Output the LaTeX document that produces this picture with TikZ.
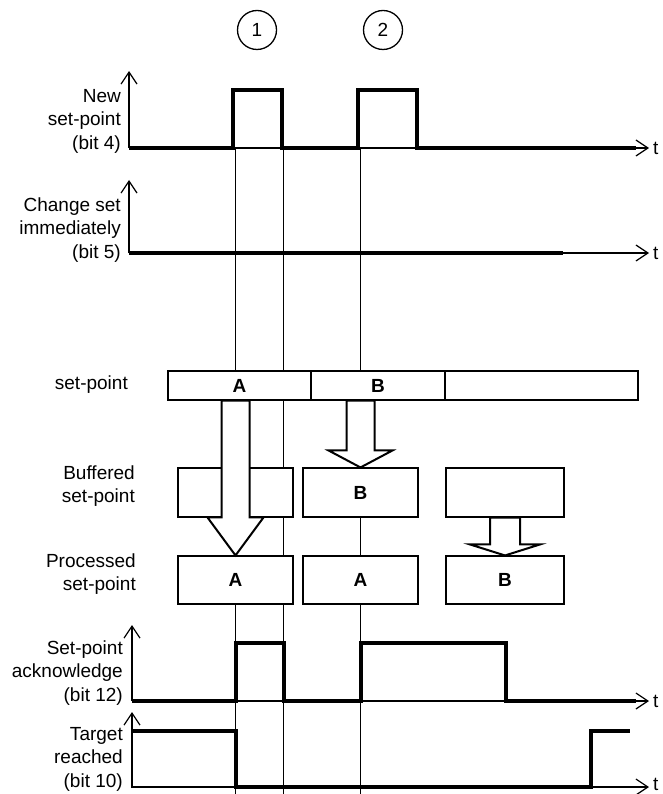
\documentclass[tikz,border=0pt]{standalone}
\usepackage{fontspec}
\setmainfont{Liberation Sans}
\usetikzlibrary{calc, arrows.meta}
\newcommand{\fatarrow}[5]{%
  \draw[fat] let \p1=(#1), \p2=(#2) in
    (\x1-#3,\y1) -- (\x1-#3,\y2+#5) -- (\x1-#4,\y2+#5) -- (\x1,\y2)
    -- (\x1+#4,\y2+#5) -- (\x1+#3,\y2+#5) -- (\x1+#3,\y1) -- cycle;}

\begin{document}
\begin{tikzpicture}[x=1pt, y=-1pt,
  lbl/.style={anchor=east, align=right, inner sep=0pt,
              font=\fontsize{19}{23.5}\selectfont},
  tlbl/.style={anchor=west, inner sep=0pt, font=\fontsize{19}{23.5}\selectfont},
  num/.style={draw, circle, line width=1.3pt, minimum size=39pt, inner sep=0pt,
              font=\fontsize{19}{20}\selectfont},
  cell/.style={draw, fill=white, line width=1.1pt, inner sep=0pt,
               font=\fontsize{19}{20}\selectfont\bfseries},
  axis/.style={line width=1.2pt, -{Straight Barb[length=12pt, width=16pt]}},
  sig/.style={line width=3.4pt},
  guide/.style={line width=0.8pt},
  fat/.style={fill=white, line width=2pt, line join=miter},
]
\useasboundingbox (0,0) rectangle (662,794);

\node[num] (c1) at (257,30) {1};
\node[num] (c2) at (383,30) {2};

\node[lbl] (l1) at (121,121) {New\\set-point\\(bit 4)};
\node[lbl] (l2) at (121,230) {Change set\\immediately\\(bit 5)};
\node[lbl] (l3) at (128,385) {set-point};
\node[lbl] (l4) at (135,486) {Buffered\\set-point};
\node[lbl] (l5) at (136,574) {Processed\\set-point};
\node[lbl] (l6) at (123,673) {Set-point\\acknowledge\\(bit 12)};
\node[lbl] (l7) at (123,759) {Target\\reached\\(bit 10)};
\foreach \y in {148,253,701,784}
  \node[tlbl] (t\y) at (653,\y) {t};

\coordinate (g1) at (235,148);
\coordinate (g2) at (283,148);
\coordinate (g3) at (360,148);
\coordinate (bot) at (0,794);
\foreach \g in {g1,g2,g3}
  \draw[guide] (\g) -- (\g |- bot);

\draw[axis] (129,148) -- (129,71);
\draw[axis] (129,148) -- (649,148);
\draw[sig] (129,148) -- (233,148) -- (233,90) -- (282,90) -- (282,148) -- (358,148)
  -- (358,90) -- (417,90) -- (417,148) -- (636,148);

\draw[axis] (129,253) -- (129,180);
\draw[axis] (129,253) -- (649,253);
\draw[sig] (129,253) -- (563,253);

\node[cell, minimum width=143pt, minimum height=29pt] (spA) at (239.5,385.5) {A};
\node[cell, minimum width=134pt, minimum height=29pt] (spB) at (378,385.5) {B};
\node[cell, minimum width=193pt, minimum height=29pt] (spC) at (541.5,385.5) {};

\node[cell, minimum width=115pt, minimum height=49pt] (buf1) at (235.5,492.5) {};
\node[cell, minimum width=115pt, minimum height=49pt] (buf2) at (360.5,492.5) {B};
\node[cell, minimum width=118pt, minimum height=49pt] (buf3) at (505,492.5) {};

\node[cell, minimum width=115pt, minimum height=48pt] (proc1) at (235.5,580) {A};
\node[cell, minimum width=115pt, minimum height=48pt] (proc2) at (360.5,580) {A};
\node[cell, minimum width=118pt, minimum height=48pt] (proc3) at (505,580) {B};

\fatarrow{spA.south -| proc1.north}{proc1.north}{14pt}{28pt}{38pt}
\fatarrow{spB.south -| buf2.north}{buf2.north}{14pt}{32pt}{17pt}
\fatarrow{buf3.south}{proc3.north}{15pt}{35pt}{11pt}

\draw[axis] (132,701) -- (132,625);
\draw[axis] (132,701) -- (649,701);
\draw[sig] (132,701) -- (236,701) -- (236,643) -- (284,643) -- (284,701) -- (361,701)
  -- (361,643) -- (506,643) -- (506,701) -- (636,701);

\draw[axis] (132,788) -- (132,712);
\draw[axis] (132,787) -- (649,787);
\draw[sig] (132,731) -- (236,731) -- (236,787) -- (591,787) -- (591,731) -- (630,731);
\end{tikzpicture}
\end{document}
